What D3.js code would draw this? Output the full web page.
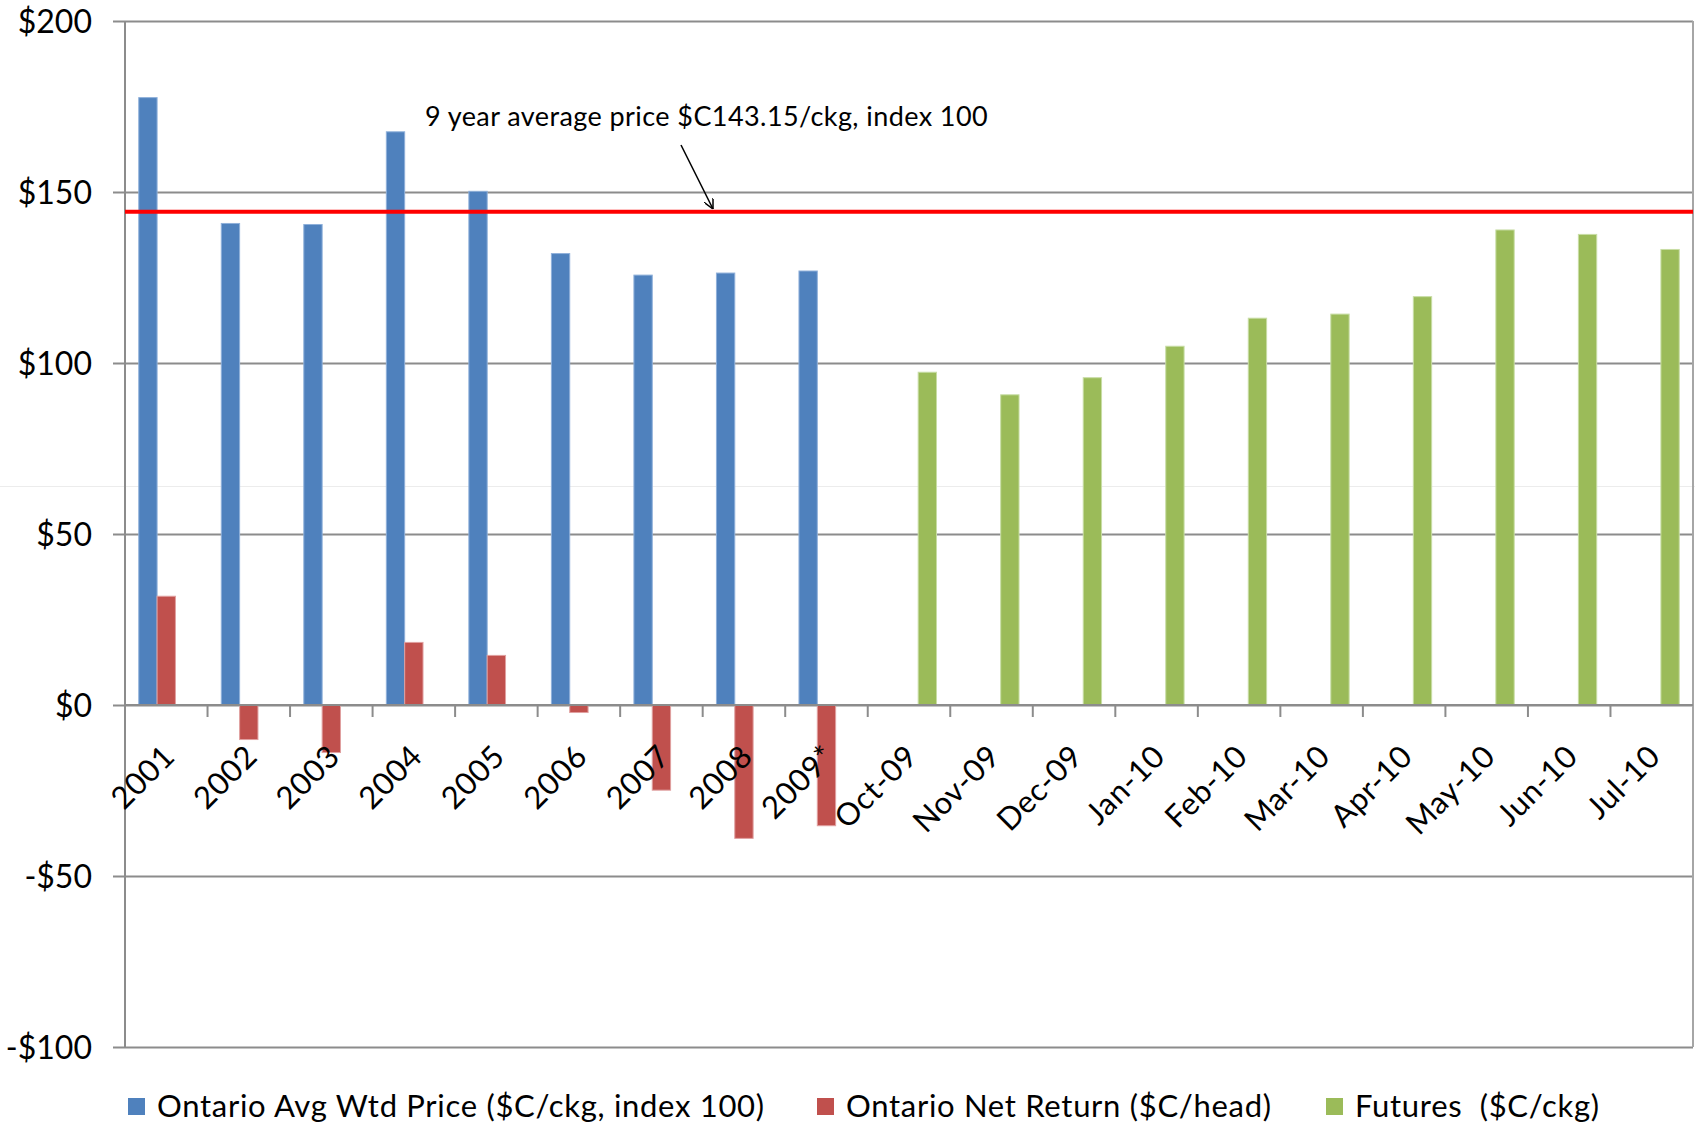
<!DOCTYPE html>
<html><head><meta charset="utf-8">
<script src="https://cdn.jsdelivr.net/npm/d3@7"></script>
<style>body{margin:0;background:#fff;} text{font-family:Lato, "Open Sans", sans-serif; white-space:pre;}</style>
</head><body><svg id="c" width="1695" height="1128"></svg>
<script>
const categories = ["2001","2002","2003","2004","2005","2006","2007","2008","2009*","Oct-09","Nov-09","Dec-09","Jan-10","Feb-10","Mar-10","Apr-10","May-10","Jun-10","Jul-10"];
const seriesNames = ["Ontario Avg Wtd Price ($C/ckg, index 100)","Ontario Net Return ($C/head)","Futures  ($C/ckg)"];
const priceValues = [177.6,140.8,140.5,167.6,150.2,132.0,125.7,126.3,126.9,null,null,null,null,null,null,null,null,null,null];
const netReturnValues = [31.8,-10.1,-13.9,18.3,14.5,-2.2,-24.9,-39.0,-35.3,null,null,null,null,null,null,null,null,null,null];
const futuresValues = [null,null,null,null,null,null,null,null,null,97.3,90.7,95.7,104.9,113.1,114.3,119.4,138.9,137.6,133.2];
const yTicks = [-100,-50,0,50,100,150,200];
const avgPrice = [144.2];
const annotation = "9 year average price $C143.15/ckg, index 100";

const colors = ["#4F81BD","#C0504D","#9BBB59"];
const strokes = ["#8FB0DA","#E0A0A0","#C8DDA5"];
const svg = d3.select("#c");
const L = 125, R = 1693, T = 21, B = 1047;

const x = d3.scaleBand().domain(categories).range([L, R]).paddingInner(0).paddingOuter(0);
const xs = d3.scaleBand().domain([0,1,2]).range([0, x.bandwidth()]).paddingInner(0).paddingOuter(0.75);
const y = d3.scaleLinear().domain([-100, 200]).range([B, T]);

// faint artifact line
svg.append("line").attr("x1",0).attr("x2",1695).attr("y1",486.5).attr("y2",486.5).attr("stroke","#ececec").attr("stroke-width",1);

// gridlines
const yAxis = d3.axisLeft(y).tickValues(yTicks).tickSize(-(R-L)).tickFormat(d => (d<0?"-$":"$")+Math.abs(d));
const gy = svg.append("g").attr("transform",`translate(${L},0)`).call(yAxis);
gy.select(".domain").remove();
gy.selectAll(".tick line").attr("stroke","#8c8c8c").attr("stroke-width",2).attr("x1",-12);
gy.selectAll(".tick text").attr("x",-33).attr("font-size",32).attr("fill","#000").attr("dy","0.35em");

// left and right borders
svg.append("line").attr("x1",L).attr("x2",L).attr("y1",T).attr("y2",B).attr("stroke","#8c8c8c").attr("stroke-width",2);
svg.append("line").attr("x1",R).attr("x2",R).attr("y1",T).attr("y2",B).attr("stroke","#a6a6a6").attr("stroke-width",2);

// bars
const all = [priceValues, netReturnValues, futuresValues];
all.forEach((vals, si) => {
  svg.append("g").selectAll("rect").data(categories.map((c,i)=>({c, v: vals[i]})).filter(d=>d.v!==null))
    .join("rect")
    .attr("x", d => x(d.c) + xs(si))
    .attr("width", xs.bandwidth())
    .attr("y", d => y(Math.max(0,d.v)))
    .attr("height", d => Math.abs(y(d.v) - y(0)))
    .attr("fill", colors[si])
    .attr("stroke", strokes[si]).attr("stroke-width",1);
});

// zero axis with ticks
svg.append("line").attr("x1",L).attr("x2",R).attr("y1",y(0)).attr("y2",y(0)).attr("stroke","#8c8c8c").attr("stroke-width",2);
svg.append("g").selectAll("line").data(categories.slice(1)).join("line")
  .attr("x1", d => x(d)).attr("x2", d => x(d)).attr("y1", y(0)).attr("y2", y(0)+12)
  .attr("stroke","#8c8c8c").attr("stroke-width",2);

// category labels
svg.append("g").selectAll("text").data(categories).join("text")
  .attr("transform", d => `translate(${x(d)+x.bandwidth()/2-5},${y(0)+38}) rotate(-45)`)
  .attr("text-anchor","end").attr("dy","0.7em").attr("font-size",31).attr("letter-spacing",0.6).attr("fill","#000").text(d=>d);

// average line
svg.append("line").attr("x1",L).attr("x2",R).attr("y1",y(avgPrice[0])).attr("y2",y(avgPrice[0])).attr("stroke","#FF0000").attr("stroke-width",4);

// annotation
svg.append("text").attr("x",425).attr("y",126).attr("font-size",27).attr("letter-spacing",0.42).attr("fill","#000").text(annotation);
svg.append("defs").append("marker").attr("id","ah").attr("viewBox","0 0 10 10").attr("refX",10).attr("refY",5)
  .attr("markerWidth",10).attr("markerHeight",10).attr("orient","auto").attr("markerUnits","userSpaceOnUse")
  .append("path").attr("d","M0,0 L10,5 L0,10").attr("fill","none").attr("stroke","#000").attr("stroke-width",1.5);
svg.append("line").attr("x1",681).attr("y1",145).attr("x2",713).attr("y2",209).attr("stroke","#000").attr("stroke-width",1.5).attr("marker-end","url(#ah)");

// legend
const legX = [128, 817, 1326];
const lg = svg.append("g");
seriesNames.forEach((n,i)=>{
  lg.append("rect").attr("x",legX[i]).attr("y",1098).attr("width",17).attr("height",17).attr("fill",colors[i]);
  lg.append("text").attr("x",legX[i]+29).attr("y",1106).attr("dy","0.35em").attr("font-size",31).attr("letter-spacing",0.7).attr("fill","#000").text(n);
});
</script></body></html>
